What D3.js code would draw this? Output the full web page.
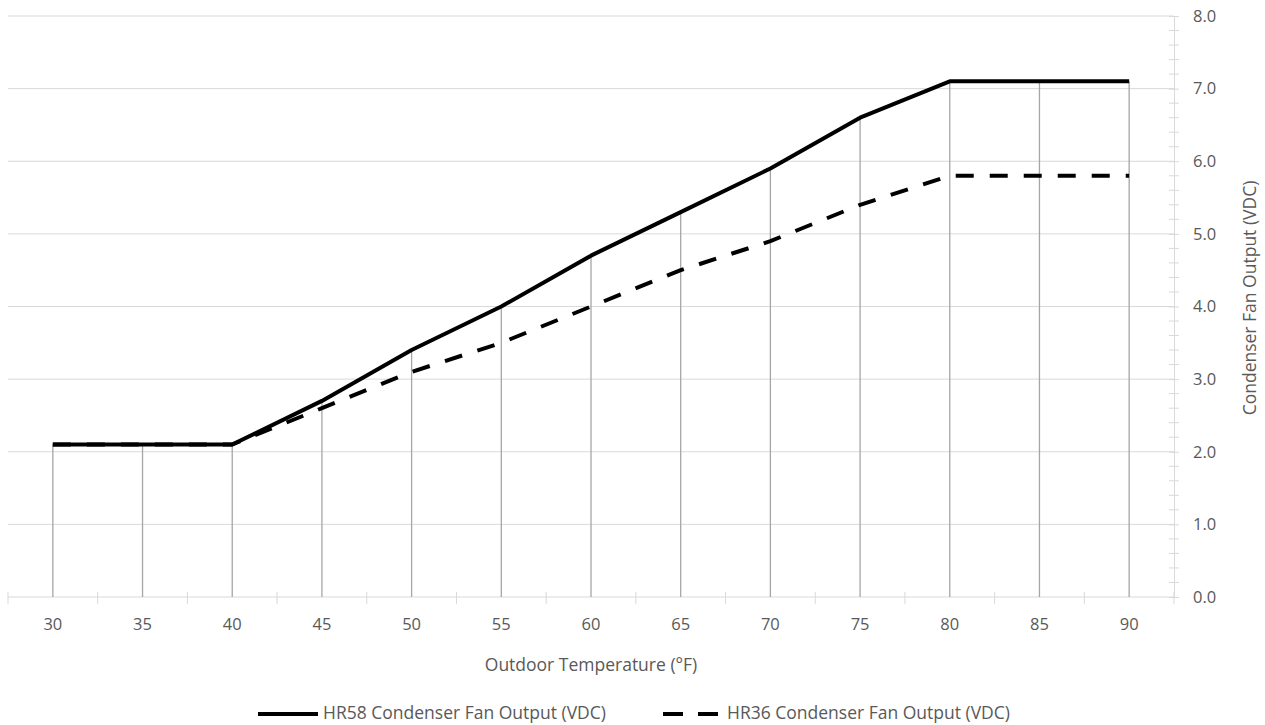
<!DOCTYPE html>
<html lang="en">
<head>
<meta charset="utf-8">
<title>Condenser Fan Output</title>
<script src="https://d3js.org/d3.v7.min.js"></script>
<style>
    body {
        margin: 0;
        background-color: #ffffff;
    }
    svg text {
        font-family: "Open Sans", "Noto Sans", sans-serif;
        fill: #595959;
    }
</style>
</head>
<body>
<svg id="chart" width="1265" height="725"></svg>
<script>
// chart data
var temps = [30, 35, 40, 45, 50, 55, 60, 65, 70, 75, 80, 85, 90];
var hr58 = [2.1, 2.1, 2.1, 2.7, 3.4, 4.0, 4.7, 5.3, 5.9, 6.6, 7.1, 7.1, 7.1];
var hr36 = [2.1, 2.1, 2.1, 2.6, 3.1, 3.5, 4.0, 4.5, 4.9, 5.4, 5.8, 5.8, 5.8];
var yTicks = [0, 1, 2, 3, 4, 5, 6, 7, 8];
var seriesNames = ["HR58 Condenser Fan Output (VDC)", "HR36 Condenser Fan Output (VDC)"];

var svg = d3.select("#chart");
var plotLeft = 8, plotRight = 1174, plotTop = 16, plotBottom = 597;
var fontSize = "16.5px", titleSize = "17.5px";

var x = d3.scaleBand().domain(temps).range([plotLeft, plotRight]).padding(0);
var y = d3.scaleLinear().domain([0, 8]).range([plotBottom, plotTop]);

var grid = "#d9d9d9";

// horizontal gridlines
svg.append("g").selectAll("line")
    .data(yTicks.filter(function(d) { return d > 0; }))
    .join("line")
    .attr("x1", plotLeft).attr("x2", plotRight)
    .attr("y1", function(d) { return y(d); })
    .attr("y2", function(d) { return y(d); })
    .attr("stroke", grid).attr("stroke-width", 1);

// right value axis
var yAxis = d3.axisRight(y)
    .tickValues(yTicks)
    .tickFormat(d3.format(".1f"))
    .tickSize(5)
    .tickPadding(14);
var ya = svg.append("g").attr("transform", "translate(" + plotRight + ",0)").call(yAxis);
ya.select(".domain").attr("stroke", grid);
ya.selectAll(".tick line").attr("stroke", grid).attr("x1", -5);
ya.selectAll("text").style("font-size", fontSize).attr("fill", "#595959");

// minor ticks
var minor = d3.range(0, 8.01, 0.2).filter(function(d) { return Math.abs(d - Math.round(d)) > 0.01; });
svg.append("g").selectAll("line")
    .data(minor)
    .join("line")
    .attr("x1", plotRight - 5).attr("x2", plotRight + 5)
    .attr("y1", function(d) { return y(d); })
    .attr("y2", function(d) { return y(d); })
    .attr("stroke", grid);

// category axis
svg.append("line")
    .attr("x1", plotLeft).attr("x2", plotRight)
    .attr("y1", plotBottom).attr("y2", plotBottom)
    .attr("stroke", grid);
var bounds = temps.map(function(t) { return x(t); }).concat([plotRight]);
svg.append("g").selectAll("line")
    .data(bounds)
    .join("line")
    .attr("x1", function(d) { return d; }).attr("x2", function(d) { return d; })
    .attr("y1", plotBottom - 5).attr("y2", plotBottom + 7)
    .attr("stroke", grid);

svg.append("g").selectAll("text")
    .data(temps)
    .join("text")
    .attr("x", function(d) { return x(d) + x.bandwidth() / 2; })
    .attr("y", 630)
    .attr("text-anchor", "middle")
    .style("font-size", fontSize)
    .text(function(d) { return d; });

// drop lines from the top point of each category
svg.append("g").selectAll("line")
    .data(temps)
    .join("line")
    .attr("x1", function(d) { return x(d) + x.bandwidth() / 2; })
    .attr("x2", function(d) { return x(d) + x.bandwidth() / 2; })
    .attr("y1", function(d, i) { return y(Math.max(hr58[i], hr36[i])); })
    .attr("y2", plotBottom)
    .attr("stroke", "#a6a6a6").attr("stroke-width", 1.3);

// series lines
var line = d3.line()
    .x(function(d, i) { return x(temps[i]) + x.bandwidth() / 2; })
    .y(function(d) { return y(d); });

svg.append("path")
    .datum(hr36)
    .attr("d", line)
    .attr("fill", "none")
    .attr("stroke", "#000")
    .attr("stroke-width", 4)
    .attr("stroke-dasharray", "18,16")
    .attr("stroke-linejoin", "round");

svg.append("path")
    .datum(hr58)
    .attr("d", line)
    .attr("fill", "none")
    .attr("stroke", "#000")
    .attr("stroke-width", 4)
    .attr("stroke-linejoin", "round");

// axis titles
svg.append("text")
    .attr("x", 591).attr("y", 671)
    .attr("text-anchor", "middle")
    .style("font-size", titleSize)
    .text("Outdoor Temperature (°F)");

svg.append("text")
    .attr("transform", "translate(1256,298) rotate(-90)")
    .attr("text-anchor", "middle")
    .style("font-size", titleSize)
    .text("Condenser Fan Output (VDC)");

// legend
var legend = [
    { name: seriesNames[0], x: 258, dash: null },
    { name: seriesNames[1], x: 663, dash: "20,15" }
];
var lg = svg.append("g").selectAll("g").data(legend).join("g")
    .attr("transform", function(d) { return "translate(" + d.x + ",714)"; });
lg.append("line")
    .attr("x1", 0).attr("x2", function(d) { return d.dash ? 55 : 60; })
    .attr("y1", 0).attr("y2", 0)
    .attr("stroke", "#000").attr("stroke-width", 4)
    .attr("stroke-dasharray", function(d) { return d.dash; });
lg.append("text")
    .attr("x", function(d) { return d.dash ? 64 : 65; })
    .attr("y", 5)
    .style("font-size", titleSize)
    .text(function(d) { return d.name; });
</script>
</body>
</html>
